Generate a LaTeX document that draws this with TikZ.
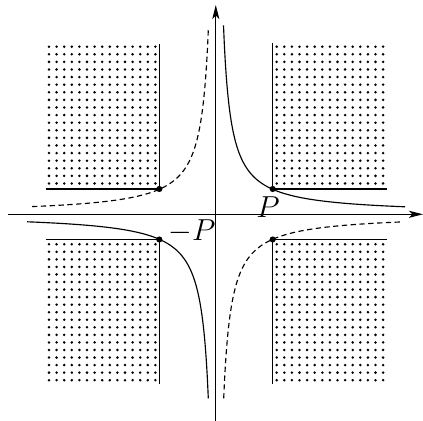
\documentclass[tikz,border=0pt]{standalone}
\usetikzlibrary{arrows.meta}
\begin{document}
\begin{tikzpicture}[x=0.02cm,y=-0.02cm,
  axis/.style={line width=0.75pt,-{Stealth[length=8pt,width=4pt,inset=2pt]}},
  edge/.style={line width=0.8pt},
  solidcurve/.style={line width=0.65pt},
  dashcurve/.style={line width=0.65pt,dash pattern=on 3pt off 2pt},
  pt/.style={circle,fill=black,inner sep=0pt,minimum size=3.5pt},
  lbl/.style={font=\fontsize{17}{20}\selectfont,inner sep=0pt}]
\useasboundingbox (0,0) rectangle (423,421);
% dotted regions
\foreach \i in {0,...,14}{
  \foreach \j in {0,...,18}{
    \fill (49+\i*7.6, 46.7+\j*7.6) circle (1.4);
    \fill (276.7+\i*7.6, 46.7+\j*7.6) circle (1.4);
    \fill (49+\i*7.6, 244.3+\j*7.55) circle (1.4);
    \fill (276.7+\i*7.6, 244.3+\j*7.55) circle (1.4);
  }
}
% corner points
\node[pt] (P) at (272.7,189) {};
\node[pt] (mP) at (159.3,239.5) {};
\node[pt] (Q) at (159.3,189) {};
\node[pt] (R) at (272.7,239.5) {};
% boundary lines
\coordinate (tlL) at (45.7,189);
\coordinate (tlT) at (159.3,44);
\coordinate (trR) at (386.7,189);
\coordinate (trT) at (272.7,43);
\coordinate (blL) at (45.7,239.5);
\coordinate (blB) at (159.3,384);
\coordinate (brR) at (386.7,239.5);
\coordinate (brB) at (272.7,384);
\draw[edge] (tlL) -- (Q.center) -- (tlT);
\draw[edge] (trR) -- (P.center) -- (trT);
\draw[edge] (blL) -- (mP.center) -- (blB);
\draw[edge] (brR) -- (R.center) -- (brB);
% axes
\coordinate (xl) at (7.5,214.3);
\coordinate (xr) at (423,214.3);
\coordinate (yb) at (215.8,421);
\coordinate (yt) at (215.8,5);
\draw[axis] (xl) -- (xr);
\draw[axis] (yb) -- (yt);
% hyperbolas
\draw[solidcurve] plot[domain=7.5:189,samples=200,smooth] ({216+\x},{214.3-1417/\x});
\draw[solidcurve] plot[domain=7.7:189,samples=200,smooth] ({216-\x},{214.3+1417/\x});
\draw[dashcurve] plot[domain=7.7:186,samples=200,smooth] ({216-\x},{214.3-1417/\x});
\draw[dashcurve] plot[domain=7.7:186,samples=200,smooth] ({216+\x},{214.3+1417/\x});
% labels
\node[lbl] (Plbl) at (268,207) {$P$};
\node[lbl] (mPlbl) at (192,231) {$-P$};
\end{tikzpicture}
\end{document}
